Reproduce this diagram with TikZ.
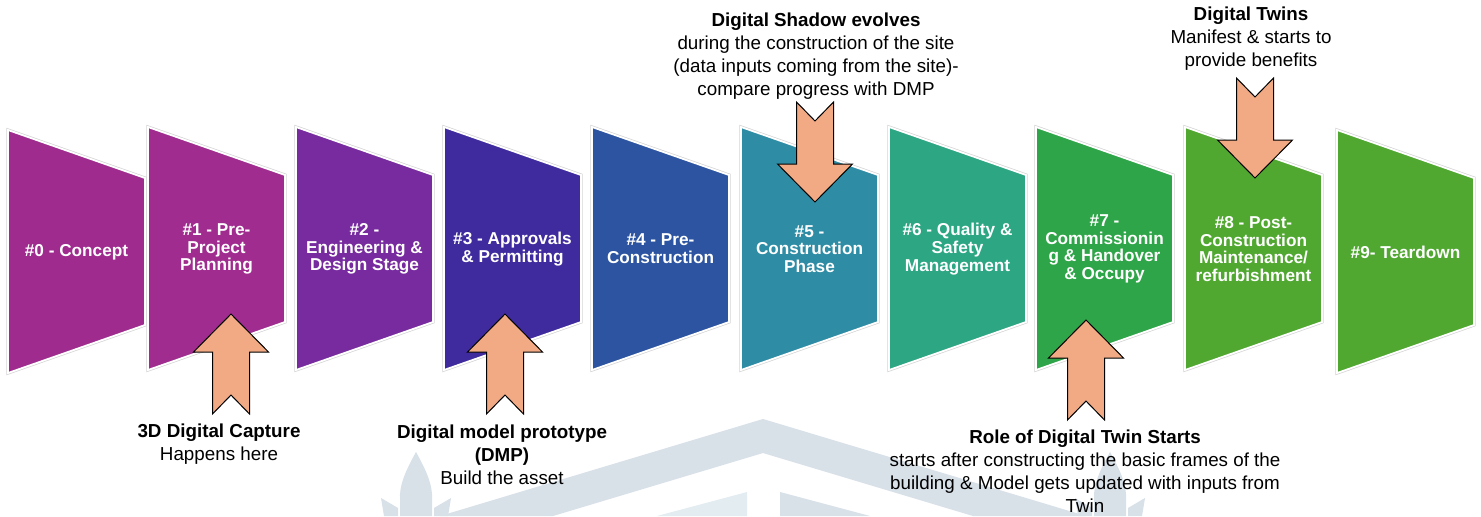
\documentclass[tikz,border=0pt]{standalone}
\usepackage{fontspec}
\setmainfont{Liberation Sans}
\definecolor{cA}{RGB}{159,43,142}
\definecolor{cB}{RGB}{160,44,143}
\definecolor{cC}{RGB}{119,43,158}
\definecolor{cD}{RGB}{64,43,158}
\definecolor{cE}{RGB}{44,84,160}
\definecolor{cF}{RGB}{46,141,165}
\definecolor{cG}{RGB}{44,166,131}
\definecolor{cH}{RGB}{46,165,72}
\definecolor{cI}{RGB}{80,168,48}
\definecolor{cJ}{RGB}{80,168,48}
\definecolor{arrowc}{RGB}{241,170,132}
\definecolor{wmc}{RGB}{216,224,232}
\definecolor{wmlight}{RGB}{226,236,241}
\tikzset{
  stage/.style={fill=#1, draw=white, line width=0.9pt, line join=miter},
  stageedge/.style={draw=black!17, line width=1.6pt, line join=miter},
  lbl/.style={text=white, font=\fontsize{8.6}{8.85}\selectfont\bfseries, align=center, inner sep=0pt},
  note/.style={font=\fontsize{9.4}{11.5}\selectfont, align=center, text=black, inner sep=0pt},
  barrow/.style={fill=arrowc, draw=black, line width=0.5pt, line join=miter},
  wm/.style={fill=wmc, draw=none},
  blockarrow/.pic={\path[barrow] (0,0) -- (37.5,38) -- (18.5,38) -- (18.5,100) -- (0,81) -- (-18.5,100) -- (-18.5,38) -- (-37.5,38) -- cycle;}
}
% #1 name, #2 left x, #3 vertical shift, #4 colour, #5 label
\newcommand\StageShape[5]{%
  \path[stageedge] (#2,127+#3) -- (#2+137,175+#3) -- (#2+137,322+#3) -- (#2,370+#3) -- cycle;
  \path[stage=#4] (#2,127+#3) -- (#2+137,175+#3) -- (#2+137,322+#3) -- (#2,370+#3) -- cycle;
  \node[lbl] (#1) at (#2+68.5,249+#3) {#5};
}
\begin{document}
\begin{tikzpicture}[x=0.5pt,y=-0.5pt]
\useasboundingbox (0,0) rectangle (1481,516);
\fill[white] (0,0) rectangle (1481,516);
% watermark
\path[wm] (440,516) -- (763,419) -- (1086,516) -- (973,516) -- (763,453) -- (553,516) -- cycle;
\fill[wmlight] (657,516) -- (747,492) -- (747,516) -- cycle;
\path[wm] (780,492) -- (870,516) -- (780,516) -- cycle;
\path[wm] (416,452) .. controls (406,470) and (399,485) .. (400,500) -- (400,516) -- (432,516) -- (432,500) .. controls (433,485) and (426,470) .. (416,452) -- cycle;
\path[wm] (381,498) -- (398,508) -- (398,516) -- (384,516) -- cycle;
\path[wm] (451,498) -- (434,508) -- (434,516) -- (448,516) -- cycle;
\path[wm] (1110,452) .. controls (1100,470) and (1093,485) .. (1094,500) -- (1094,516) -- (1126,516) -- (1126,500) .. controls (1127,485) and (1120,470) .. (1110,452) -- cycle;
\path[wm] (1075,498) -- (1092,508) -- (1092,516) -- (1078,516) -- cycle;
\path[wm] (1145,498) -- (1128,508) -- (1128,516) -- (1142,516) -- cycle;
% stages
\StageShape{s0}{8}{3}{cA}{\#0 - Concept}
\StageShape{s1}{148}{0}{cB}{\#1 - Pre-\\Project\\Planning}
\StageShape{s2}{296}{0}{cC}{\#2 -\\Engineering \&\\Design Stage}
\StageShape{s3}{444}{0}{cD}{\#3 - Approvals\\\& Permitting}
\StageShape{s4}{592}{0}{cE}{\#4 - Pre-\\Construction}
\StageShape{s5}{741}{0}{cF}{\#5 -\\Construction\\Phase}
\StageShape{s6}{889}{0}{cG}{\#6 - Quality \&\\Safety\\Management}
\StageShape{s7}{1036}{0}{cH}{\#7 -\\Commissionin\\g \& Handover\\\& Occupy}
\StageShape{s8}{1185}{0}{cI}{\#8 - Post-\\Construction\\Maintenance/\\refurbishment}
\StageShape{s9}{1337}{3}{cJ}{\#9- Teardown}
% block arrows
\pic at (231,314) {blockarrow};
\pic at (505,314) {blockarrow};
\pic at (1086,320) {blockarrow};
\pic[yscale=-1] at (815,202) {blockarrow};
\pic[yscale=-1] at (1255,178) {blockarrow};
% notes
\node[note] (shadow) at (816,56) {\textbf{Digital Shadow evolves}\\during the construction of the site\\(data inputs coming from the site)-\\compare progress with DMP};
\node[note] (twins) at (1251,39) {\textbf{Digital Twins}\\Manifest \& starts to\\provide benefits};
\node[note] (capture) at (219,444) {\textbf{3D Digital Capture}\\Happens here};
\node[note] (dmp) at (502,455) {\textbf{Digital model prototype}\\\textbf{(DMP)}\\Build the asset};
\node[note] (role) at (1085,471) {\textbf{Role of Digital Twin Starts}\\starts after constructing the basic frames of the\\building \& Model gets updated with inputs from\\Twin};
\end{tikzpicture}
\end{document}
